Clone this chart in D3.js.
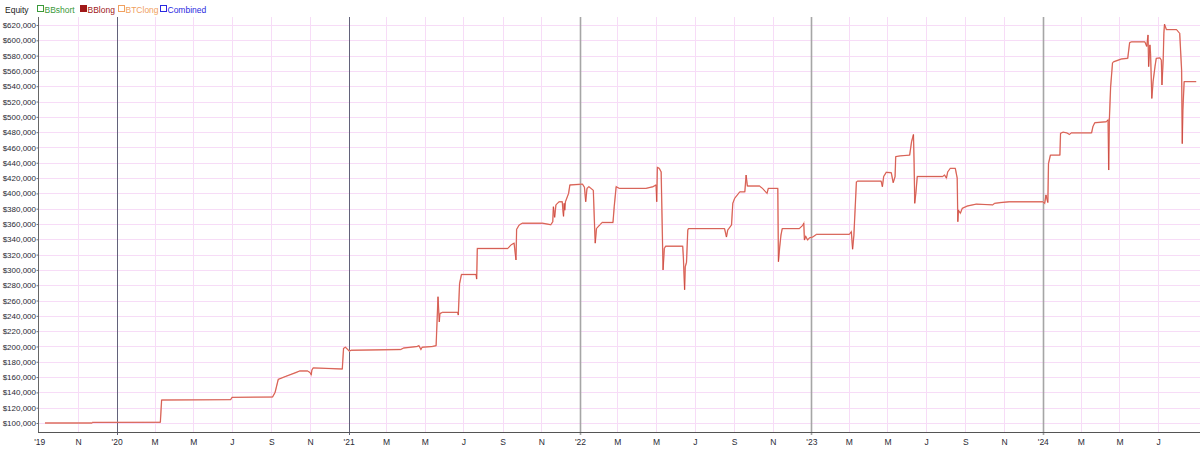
<!DOCTYPE html>
<html>
<head>
<meta charset="utf-8">
<script src="https://cdn.jsdelivr.net/npm/d3@7"></script>
<style>
  html, body { margin: 0; padding: 0; background: #fff; }
  svg { display: block; font-family: "Liberation Sans", Arial, sans-serif; }
</style>
</head>
<body>
<svg id="chart" width="1200" height="455"></svg>
<script>
// ---- data ----
const dates = [
"2019-09-10","2019-11-23","2019-11-24","2020-03-10","2020-03-12","2020-06-29","2020-07-01","2020-09-03","2020-09-07","2020-09-12",
"2020-09-24","2020-10-10","2020-10-16","2020-10-28","2020-11-01","2020-11-03","2020-11-04","2020-11-06","2020-12-22","2020-12-24",
"2020-12-27","2021-01-02","2021-01-05","2021-03-24","2021-03-29","2021-04-19","2021-04-22","2021-04-25","2021-04-27","2021-05-13",
"2021-05-19","2021-05-22","2021-05-24","2021-05-25","2021-05-29","2021-06-22","2021-06-23","2021-06-25","2021-06-28","2021-07-21",
"2021-07-22","2021-07-23","2021-09-09","2021-09-14","2021-09-19","2021-09-22","2021-09-23","2021-09-27","2021-10-02","2021-11-03",
"2021-11-16","2021-11-19","2021-11-20","2021-11-22","2021-11-24","2021-11-29","2021-12-04","2021-12-05","2021-12-06","2021-12-07",
"2021-12-08","2021-12-09","2021-12-14","2021-12-16","2022-01-03","2022-01-05","2022-01-08","2022-01-10","2022-01-12","2022-01-15",
"2022-01-22","2022-01-24","2022-01-25","2022-01-27","2022-02-01","2022-02-05","2022-02-22","2022-02-24","2022-02-27","2022-03-04",
"2022-04-15","2022-04-26","2022-05-01","2022-05-02","2022-05-03","2022-05-06","2022-05-09","2022-05-12","2022-05-14","2022-05-16",
"2022-06-12","2022-06-13","2022-06-15","2022-06-16","2022-06-18","2022-06-20","2022-06-21","2022-08-17","2022-08-20","2022-08-22",
"2022-08-28","2022-08-30","2022-09-02","2022-09-10","2022-09-18","2022-09-20","2022-09-22","2022-10-11","2022-10-16","2022-10-23",
"2022-10-25","2022-11-09","2022-11-10","2022-11-12","2022-11-14","2022-11-16","2022-12-13","2022-12-18","2022-12-20","2022-12-21",
"2022-12-23","2022-12-26","2022-12-29","2023-01-03","2023-01-09","2023-03-02","2023-03-05","2023-03-07","2023-03-09","2023-03-13",
"2023-03-15","2023-04-21","2023-04-23","2023-04-25","2023-04-29","2023-05-07","2023-05-10","2023-05-13","2023-05-14","2023-05-21",
"2023-06-05","2023-06-08","2023-06-11","2023-06-12","2023-06-13","2023-06-15","2023-06-17","2023-07-27","2023-07-30","2023-08-02",
"2023-08-04","2023-08-08","2023-08-16","2023-08-19","2023-08-20","2023-08-21","2023-08-24","2023-08-27","2023-09-04","2023-09-18",
"2023-10-14","2023-10-17","2023-10-27","2023-11-09","2024-01-01","2024-01-04","2024-01-06","2024-01-09","2024-01-10","2024-01-13",
"2024-01-28","2024-01-29","2024-02-02","2024-02-08","2024-02-12","2024-02-15","2024-03-18","2024-03-20","2024-03-23","2024-04-10",
"2024-04-13","2024-04-14","2024-04-15","2024-04-17","2024-04-20","2024-04-22","2024-05-04","2024-05-14","2024-05-17","2024-05-20",
"2024-06-10","2024-06-13","2024-06-15","2024-06-16","2024-06-18","2024-06-19","2024-06-21","2024-06-23","2024-06-26","2024-06-28",
"2024-07-04","2024-07-06","2024-07-07","2024-07-09","2024-07-10","2024-07-11","2024-07-14","2024-07-30","2024-08-01","2024-08-04",
"2024-08-07","2024-08-08","2024-08-09","2024-08-11","2024-08-30"
];
const equity = [
100000,100000,100800,101000,130000,130500,133500,134000,140000,157000,
161000,166000,168000,168000,166000,163000,169000,172000,170500,197600,
199000,194000,195000,196000,198000,200000,201000,196000,199000,200000,
201000,265000,232000,243000,244600,244600,241000,282000,294000,294000,
288000,328000,328000,332600,335000,313000,353000,358700,361000,361000,
359000,363000,382600,368700,385000,389000,389000,378000,370000,387000,
378000,389000,400000,411000,412000,412000,408000,389000,406500,408700,
404000,356000,335000,354000,358700,362000,362000,383000,408700,406500,
406500,408700,411000,389000,434000,432700,428000,300000,328000,331000,
331000,317000,274000,304000,310000,352000,354000,354000,343000,352000,
358700,387000,393600,402000,402000,424000,409600,409600,406500,400000,
406500,406500,310700,330000,345600,354000,354000,358000,361000,339000,
344000,339000,342000,343000,346500,346500,350000,327000,345000,415000,
416000,416000,408700,422000,427500,427000,414000,422000,448000,449000,
450000,467500,477000,440000,387000,402000,422000,422000,424000,420000,
428000,432700,432700,420000,363000,378000,374000,380500,383500,386000,
385000,387000,388000,389000,389000,387000,398000,388000,439000,450000,
450000,478500,480000,479000,477000,479000,479000,487000,492300,493600,
496000,430500,496000,539000,570600,572000,575600,576500,597000,598000,
598000,592000,607000,565600,594000,583000,524000,546000,565600,576500,
577000,574000,541600,576000,609000,621000,614000,614000,612000,609000,
561000,465000,509000,546000,546000
];
const tickDates = [
"2019-09-01","2019-11-01","2020-01-01","2020-03-01","2020-05-01","2020-07-01","2020-09-01","2020-11-01",
"2021-01-01","2021-03-01","2021-05-01","2021-07-01","2021-09-01","2021-11-01",
"2022-01-01","2022-03-01","2022-05-01","2022-07-01","2022-09-01","2022-11-01",
"2023-01-01","2023-03-01","2023-05-01","2023-07-01","2023-09-01","2023-11-01",
"2024-01-01","2024-03-01","2024-05-01","2024-07-01"
];
const tickLabels = [
"'19","N","'20","M","M","J","S","N",
"'21","M","M","J","S","N",
"'22","M","M","J","S","N",
"'23","M","M","J","S","N",
"'24","M","M","J"
];
const yearLines = ["2020-01-01","2021-01-01","2022-01-01","2023-01-01","2024-01-01"];
const yTicks = d3.range(100000, 620001, 20000);
const legendNames = ["BBshort","BBlong","BTClong","Combined"];
const legendColors = ["#3a9a3a","#a01818","#f0a060","#2a2ae0"];

// ---- chart ----
(function () {
const parse = d3.timeParse("%Y-%m-%d");
const svg = d3.select("#chart");
const pLeft = 38, pRight = 1200, pTop = 17, pBottom = 432;
const FONT = "Liberation Sans, Arial, sans-serif";

const x = d3.scaleTime()
  .domain([parse("2019-08-30"), parse("2024-09-05")])
  .range([pLeft, pRight]);
const y = d3.scaleLinear()
  .domain([100000, 620000])
  .range([423, 25]);

// horizontal grid
svg.append("g").selectAll("line").data(yTicks).join("line")
  .attr("x1", pLeft).attr("x2", pRight)
  .attr("y1", d => Math.round(y(d)) + 0.5).attr("y2", d => Math.round(y(d)) + 0.5)
  .attr("stroke", "#f7dcf7").attr("stroke-width", 1);

// vertical grid (non-year ticks)
svg.append("g").selectAll("line")
  .data(tickDates.filter((d, i) => tickLabels[i].length === 1))
  .join("line")
  .attr("x1", d => Math.round(x(parse(d))) + 0.5).attr("x2", d => Math.round(x(parse(d))) + 0.5)
  .attr("y1", pTop).attr("y2", pBottom)
  .attr("stroke", "#f7dcf7").attr("stroke-width", 1);

// year separator lines
svg.append("g").selectAll("line").data(yearLines).join("line")
  .attr("x1", d => Math.round(x(parse(d))) + 0.5).attr("x2", d => Math.round(x(parse(d))) + 0.5)
  .attr("y1", pTop).attr("y2", pBottom + 3)
  .attr("stroke", (d, i) => i < 2 ? "#62627a" : "#a6a6a6")
  .attr("stroke-width", (d, i) => i < 2 ? 1 : 1.6);

// series lines
const pts = dates.map((d, i) => [parse(d), equity[i]]);
const line = d3.line().x(d => x(d[0])).y(d => y(d[1]));
svg.append("path").datum(pts)
  .attr("d", line).attr("fill", "none")
  .attr("stroke", "#f4a496").attr("stroke-width", 1.4);
svg.append("path").datum(pts)
  .attr("d", line).attr("fill", "none")
  .attr("stroke", "#c0302a").attr("stroke-width", 0.8).attr("stroke-opacity", 0.75);

// y axis
const yAxis = d3.axisLeft(y).tickValues(yTicks).tickSize(2).tickFormat(d3.format("$,"));
const gy = svg.append("g").attr("transform", `translate(${pLeft + 0.5},0)`).call(yAxis);
gy.select(".domain").remove();
gy.selectAll(".tick line").attr("stroke", "#777");
gy.selectAll("text").attr("font-size", 8).attr("fill", "#2a2a35")
  .attr("font-family", FONT).attr("x", -2.5);
svg.append("line").attr("x1", pLeft + 0.5).attr("x2", pLeft + 0.5)
  .attr("y1", pTop).attr("y2", pBottom).attr("stroke", "#666").attr("stroke-width", 1);

// x axis
const xAxis = d3.axisBottom(x).tickValues(tickDates.map(parse)).tickSize(0)
  .tickFormat((d, i) => tickLabels[i]);
const gx = svg.append("g").attr("transform", `translate(0,${pBottom + 0.5})`).call(xAxis);
gx.select(".domain").remove();
gx.selectAll("text").attr("font-size", 8.5).attr("fill", "#2a2a35").attr("dy", "0.71em").attr("y", 6)
  .attr("font-family", FONT);
svg.append("line").attr("x1", pLeft).attr("x2", pRight)
  .attr("y1", pBottom + 0.5).attr("y2", pBottom + 0.5).attr("stroke", "#555");

// legend
const lg = svg.append("g").attr("font-size", 8.5).attr("font-family", FONT);
lg.append("text").attr("x", 5).attr("y", 12.5).attr("fill", "#222").text("Equity");
const lx = [37, 80, 118, 160];
legendNames.forEach((n, i) => {
  lg.append("rect").attr("x", lx[i] + 0.5).attr("y", 5.5).attr("width", 6).attr("height", 6)
    .attr("fill", i === 1 ? legendColors[i] : "none").attr("stroke", legendColors[i]);
  lg.append("text").attr("x", lx[i] + 7.5).attr("y", 12.5).attr("fill", legendColors[i]).text(n);
});
})();
</script>
</body>
</html>
